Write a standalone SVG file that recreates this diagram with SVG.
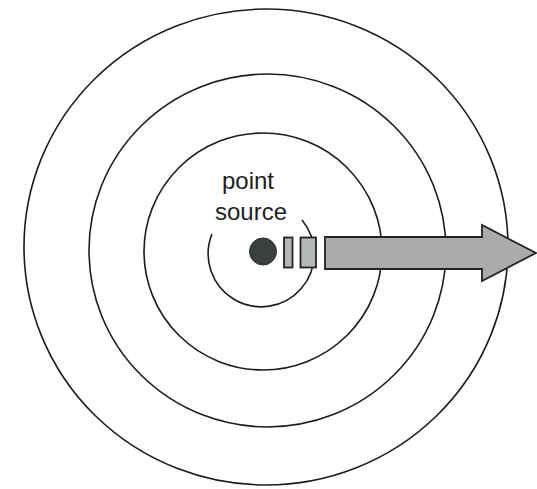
<svg xmlns="http://www.w3.org/2000/svg" width="537" height="489" viewBox="0 0 537 489">
  <style>
    .ring { fill: none; stroke: #1c1c1c; stroke-width: 1.6; }
    .bar { fill: #b4b8b4; stroke: #222; stroke-width: 1.8; }
    .lbl { font-family: "Liberation Sans", Arial, sans-serif; font-size: 24px; fill: #1e1e1e; text-anchor: middle; }
  </style>
  <rect width="537" height="489" fill="#ffffff"/>
  <g id="wavefronts">
    <ellipse class="ring" cx="266" cy="247" rx="242" ry="238"/>
    <ellipse class="ring" cx="267.5" cy="250.5" rx="178.5" ry="176.5"/>
    <ellipse class="ring" cx="263" cy="251.5" rx="119" ry="118.5"/>
    <path class="ring" d="M 212 234 A 53 53 0 1 0 302 220"/>
  </g>
  <g id="source">
    <circle cx="263" cy="251.5" r="13.5" fill="#3b403d" stroke="#2a2d2b" stroke-width="1"/>
    <text class="lbl" x="248" y="189">point</text>
    <text class="lbl" x="251" y="220">source</text>
  </g>
  <g id="direction">
    <rect class="bar" x="284" y="237.5" width="8.5" height="30"/>
    <rect class="bar" x="300.5" y="237.5" width="15.5" height="30"/>
    <path class="bar" fill="#a9aca9" style="fill:#a9aca9" d="M 325 237 L 482 237 L 482 225 L 536 253 L 482 281 L 482 269 L 325 269 Z"/>
  </g>
</svg>
